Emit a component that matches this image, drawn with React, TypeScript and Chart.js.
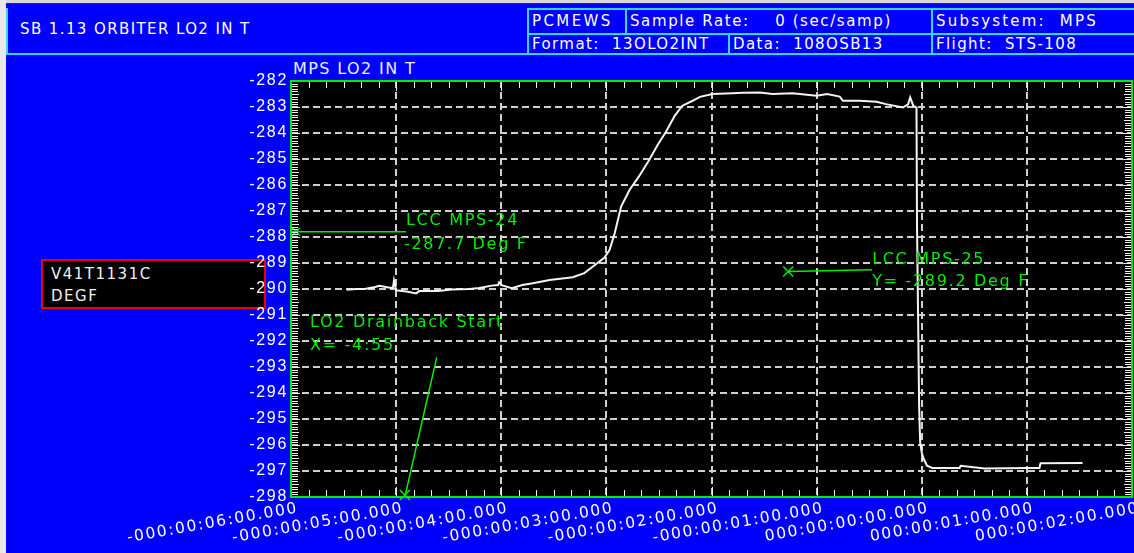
import React, { useEffect, useRef } from "react";
import { Chart, registerables } from "chart.js";

Chart.register(...registerables);

// ---- data ----
const timeMin = [
  -5.47, -5.38, -5.3, -5.2, -5.16, -5.06, -5.03, -5.02, -5.0, -4.9, -4.81, -4.78, -4.6, -4.47, -4.3,
  -4.21, -4.09, -4.03, -4.02, -3.99, -3.9, -3.8, -3.7, -3.54, -3.42, -3.32, -3.21, -3.1, -3.02, -2.97,
  -2.92, -2.86, -2.78, -2.69, -2.59, -2.51, -2.43, -2.35, -2.28, -2.18, -2.11, -1.99, -1.8, -1.7, -1.54,
  -1.42, -1.23, -1.0, -0.9, -0.78, -0.75, -0.59, -0.43, -0.34, -0.18, -0.13, -0.11, -0.08, -0.05, -0.045,
  -0.035, -0.025, -0.015, 0.0, 0.02, 0.05, 0.1, 0.36, 0.37, 0.6, 1.0, 1.12, 1.13, 1.53,
];
const tempDegF = [
  -290.03, -290.0, -290.0, -289.92, -289.88, -289.95, -289.95, -289.67, -290.05, -290.1, -290.17, -290.08,
  -290.08, -290.02, -290.0, -289.96, -289.87, -289.85, -289.74, -289.86, -289.97, -289.85, -289.78, -289.65,
  -289.6, -289.55, -289.39, -289.05, -288.8, -288.5, -287.85, -286.83, -286.19, -285.67, -285.02, -284.44,
  -283.93, -283.34, -282.96, -282.76, -282.61, -282.5, -282.47, -282.45, -282.44, -282.5, -282.47, -282.57,
  -282.5, -282.6, -282.76, -282.76, -282.8, -282.89, -283.02, -282.9, -282.63, -282.96, -283.02, -287.6,
  -291.0, -294.5, -295.9, -296.3, -296.55, -296.8, -296.88, -296.88, -296.8, -296.9, -296.88, -296.88,
  -296.7, -296.69,
];

const xTickValues = [-6, -5, -4, -3, -2, -1, 0, 1, 2];
const xTickLabels = [
  "-000:00:06:00.000",
  "-000:00:05:00.000",
  "-000:00:04:00.000",
  "-000:00:03:00.000",
  "-000:00:02:00.000",
  "-000:00:01:00.000",
  "000:00:00:00.000",
  "000:00:01:00.000",
  "000:00:02:00.000",
];
const yTickValues = [-298, -297, -296, -295, -294, -293, -292, -291, -290, -289, -288, -287, -286, -285, -284, -283, -282];

// annotations (data coordinates)
const lcc24LineX = [-6, -4.906];
const lcc24LineY = [-287.8, -287.8];
const lcc24Text = ["LCC MPS-24", "-287.7 Deg F"];
const lcc25LineX = [-1.27, -0.472];
const lcc25LineY = [-289.33, -289.26];
const lcc25Text = ["LCC MPS-25", "Y= -289.2 Deg F"];
const drainLineX = [-4.917, -4.614];
const drainLineY = [-298, -292.63];
const drainTextX = -5.819;
const drainTextY = -291.31;
const drainText = ["LO2 Drainback Start", "X= -4:55"];

const headerTitle = "SB 1.13 ORBITER LO2 IN T";
const plotTitle = "MPS LO2 IN T";
const boxLines = ["V41T1131C", "DEGF"];

const GREEN = "#00ee00";
const CYAN = "#30d8ff";

function drawX(ctx: CanvasRenderingContext2D, x: number, y: number, r: number) {
  ctx.beginPath();
  ctx.moveTo(x - r, y - r);
  ctx.lineTo(x + r, y + r);
  ctx.moveTo(x + r, y - r);
  ctx.lineTo(x - r, y + r);
  ctx.stroke();
}

const overlayPlugin = {
  id: "overlay",
  beforeDraw(chart: any) {
    const { ctx, chartArea: a } = chart;
    (ctx as any).letterSpacing = "1.7px";
    ctx.save();
    ctx.fillStyle = "#000000";
    ctx.fillRect(a.left, a.top, a.right - a.left, a.bottom - a.top);
    ctx.restore();
  },
  afterDatasetsDraw(chart: any) {
    const { ctx } = chart;
    const xs = chart.scales.x;
    const ys = chart.scales.y;
    const px = (v: number) => xs.getPixelForValue(v);
    const py = (v: number) => ys.getPixelForValue(v);
    ctx.save();
    ctx.strokeStyle = GREEN;
    ctx.fillStyle = GREEN;
    ctx.lineWidth = 1.5;
    ctx.font = '16px "DejaVu Sans"';
    ctx.textBaseline = "middle";
    ctx.textAlign = "left";

    // LCC MPS-24
    let x0 = px(lcc24LineX[0]), y0 = py(lcc24LineY[0]);
    let x1 = px(lcc24LineX[1]), y1 = py(lcc24LineY[1]);
    ctx.beginPath();
    ctx.moveTo(x0, y0);
    ctx.lineTo(x1, y1);
    ctx.stroke();
    drawX(ctx, x0 + 5, y0, 4);
    ctx.fillText(lcc24Text[0], x1, y1 - 11);
    ctx.fillText(lcc24Text[1], x1 - 2, y1 + 13);

    // LCC MPS-25
    x0 = px(lcc25LineX[0]); y0 = py(lcc25LineY[0]);
    x1 = px(lcc25LineX[1]); y1 = py(lcc25LineY[1]);
    ctx.beginPath();
    ctx.moveTo(x0, y0);
    ctx.lineTo(x1, y1);
    ctx.stroke();
    drawX(ctx, x0, y0, 5);
    ctx.fillText(lcc25Text[0], x1, y1 - 10);
    ctx.fillText(lcc25Text[1], x1, y1 + 12);

    // Drainback
    x0 = px(drainLineX[0]); y0 = py(drainLineY[0]);
    x1 = px(drainLineX[1]); y1 = py(drainLineY[1]);
    ctx.beginPath();
    ctx.moveTo(x0, y0);
    ctx.lineTo(x1, y1);
    ctx.stroke();
    drawX(ctx, x0, y0 - 2, 5);
    const tx = px(drainTextX), ty = py(drainTextY);
    ctx.fillText(drainText[0], tx, ty);
    ctx.fillText(drainText[1], tx, ty + 23);
    ctx.restore();
  },
  afterDraw(chart: any) {
    const { ctx, chartArea: a } = chart;
    const xs = chart.scales.x;
    const ys = chart.scales.y;
    ctx.save();
    ctx.strokeStyle = "#f0f0f0";
    ctx.lineWidth = 1;
    // top / bottom minor ticks (every 10 s)
    for (let i = 0; i <= 48; i++) {
      const v = -6 + i / 6;
      const x = Math.round(xs.getPixelForValue(v)) + 0.5;
      const len = i % 6 === 0 ? 10 : 7;
      ctx.beginPath();
      ctx.moveTo(x, a.top);
      ctx.lineTo(x, a.top + len);
      ctx.moveTo(x, a.bottom);
      ctx.lineTo(x, a.bottom - len);
      ctx.stroke();
    }
    // left / right minor ticks (every 0.1 deg)
    for (let i = 0; i <= 160; i++) {
      const v = -298 + i / 10;
      const y = Math.round(ys.getPixelForValue(v)) + 0.5;
      const len = i % 10 === 0 ? 9 : i % 5 === 0 ? 8 : 7;
      ctx.beginPath();
      ctx.moveTo(a.left, y);
      ctx.lineTo(a.left + len, y);
      ctx.moveTo(a.right, y);
      ctx.lineTo(a.right - len, y);
      ctx.stroke();
    }
    ctx.strokeStyle = GREEN;
    ctx.lineWidth = 2;
    ctx.strokeRect(a.left, a.top, a.right - a.left, a.bottom - a.top);
    ctx.restore();
  },
};

function ChartCanvas() {
  const ref = useRef<HTMLCanvasElement | null>(null);
  useEffect(() => {
    if (!ref.current) return;
    const points = timeMin.map((t, i) => ({ x: t, y: tempDegF[i] }));
    const chart = new Chart(ref.current, {
      type: "line",
      data: {
        datasets: [
          {
            label: "MPS LO2 IN T",
            data: points,
            borderColor: "#f4f4f4",
            borderWidth: 2,
            pointRadius: 0,
            tension: 0,
            fill: false,
          },
        ],
      },
      options: {
        responsive: false,
        animation: false,
        devicePixelRatio: 1,
        layout: { padding: { left: 0, right: 2, top: 81, bottom: 0 } },
        plugins: { legend: { display: false }, tooltip: { enabled: false }, title: { display: false } },
        scales: {
          x: {
            type: "linear",
            min: -6,
            max: 2,
            afterBuildTicks: (s: any) => {
              s.ticks = xTickValues.map((v) => ({ value: v }));
            },
            ticks: {
              autoSkip: false,
              minRotation: 10,
              maxRotation: 10,
              color: "#ffffff",
              font: { family: "DejaVu Sans", size: 15.5 },
              padding: 2,
              labelOffset: 7,
              callback: (v: any) => xTickLabels[xTickValues.indexOf(Number(v))] ?? "",
            },
            grid: { color: "#d0d0d0", lineWidth: 2, drawTicks: false },
            border: { display: false, dash: [7, 4] },
            afterFit: (s: any) => {
              s.height = 56;
              s.paddingLeft = 0;
              s.paddingRight = 0;
            },
          },
          y: {
            type: "linear",
            min: -298,
            max: -282,
            afterBuildTicks: (s: any) => {
              s.ticks = yTickValues.map((v) => ({ value: v }));
            },
            ticks: {
              color: "#ffffff",
              font: { family: "Liberation Sans", size: 16 },
              padding: 3,
              callback: (v: any) => String(v),
            },
            grid: { color: "#d0d0d0", lineWidth: 2, drawTicks: false },
            border: { display: false, dash: [7, 4] },
            afterFit: (s: any) => {
              s.width = 291;
              s.paddingTop = 0;
              s.paddingBottom = 0;
            },
          },
        },
      },
      plugins: [overlayPlugin],
    } as any);
    return () => chart.destroy();
  }, []);
  return (
    <canvas
      ref={ref}
      width={1134}
      height={553}
      style={{ position: "absolute", left: 0, top: 0, width: 1134, height: 553 }}
    />
  );
}

const headerFont: React.CSSProperties = {
  fontFamily: '"DejaVu Sans"',
  fontSize: 15,
  letterSpacing: "1.4px",
  color: "#ffffff",
  whiteSpace: "pre",
};

function Cell(props: { left: number; top: number; w: number; h: number; text: string; ls?: string }) {
  const { left, top, w, h, text, ls } = props;
  return (
    <div
      style={{
        position: "absolute",
        left,
        top,
        width: w,
        height: h,
        boxSizing: "border-box",
        border: `2px solid ${CYAN}`,
        lineHeight: `${h - 4}px`,
        paddingLeft: 3,
        ...headerFont,
        letterSpacing: ls ?? "1.4px",
      }}
    >
      {text}
    </div>
  );
}

export default function App() {
  return (
    <div
      style={{
        position: "fixed",
        left: 0,
        top: 0,
        width: 1134,
        height: 553,
        background: "#0000ff",
        overflow: "hidden",
      }}
    >
      <div style={{ position: "absolute", left: 0, top: 0, width: 1134, height: 3, background: "#d8d8d8" }} />
      <div style={{ position: "absolute", left: 0, top: 3, width: 1134, height: 1, background: "#303030" }} />
      <div style={{ position: "absolute", left: 0, top: 0, width: 6, height: 553, background: "#e8e8e8" }} />

      <div
        style={{
          position: "absolute",
          left: 6,
          top: 8,
          width: 523,
          height: 47,
          boxSizing: "border-box",
          borderLeft: `2px solid ${CYAN}`,
          borderRight: `2px solid ${CYAN}`,
          borderBottom: `2px solid ${CYAN}`,
          lineHeight: "43px",
          paddingLeft: 12,
          ...headerFont,
        }}
      >
        {headerTitle}
      </div>
      <Cell left={527} top={8} w={100} h={27} text="PCMEWS" ls="2.4px" />
      <Cell left={625} top={8} w={308} h={27} text="Sample Rate:    0 (sec/samp)" ls="1.6px" />
      <Cell left={931} top={8} w={205} h={27} text="Subsystem:  MPS" ls="2.2px" />
      <Cell left={527} top={33} w={203} h={22} text="Format:  13OLO2INT" />
      <Cell left={728} top={33} w={205} h={22} text="Data:  108OSB13" />
      <Cell left={931} top={33} w={205} h={22} text="Flight:  STS-108" />

      <div
        style={{
          position: "absolute",
          left: 293,
          top: 59,
          fontFamily: '"DejaVu Sans"',
          fontSize: 16,
          letterSpacing: "1.4px",
          color: "#e8f0ff",
          whiteSpace: "pre",
          lineHeight: "20px",
        }}
      >
        {plotTitle}
      </div>

      <div
        style={{
          position: "absolute",
          left: 41,
          top: 259,
          width: 225,
          height: 50,
          boxSizing: "border-box",
          border: "2px solid #ee0000",
          background: "#000000",
          paddingLeft: 8,
          paddingTop: 2,
          fontFamily: '"DejaVu Sans"',
          fontSize: 15,
          letterSpacing: "1.5px",
          color: "#f0f0f0",
          lineHeight: "22px",
          whiteSpace: "pre",
        }}
      >
        <div>{boxLines[0]}</div>
        <div>{boxLines[1]}</div>
      </div>

      <ChartCanvas />
    </div>
  );
}
